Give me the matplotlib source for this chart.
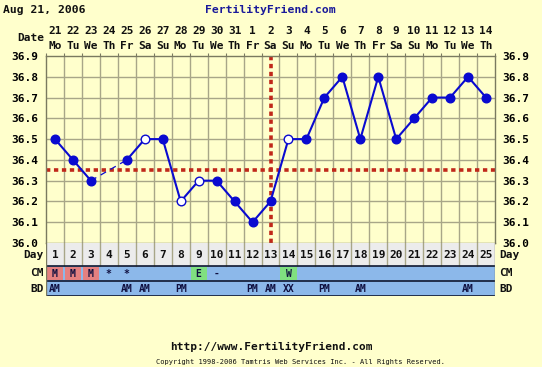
import matplotlib
matplotlib.use("Agg")
import matplotlib.pyplot as plt
import matplotlib.transforms as mtransforms
from matplotlib.patches import Rectangle

# ---------------- data ----------------
cycle_days = list(range(1, 26))
dates = ["21", "22", "23", "24", "25", "26", "27", "28", "29", "30", "31", "1", "2",
         "3", "4", "5", "6", "7", "8", "9", "10", "11", "12", "13", "14"]
weekdays = ["Mo", "Tu", "We", "Th", "Fr", "Sa", "Su", "Mo", "Tu", "We", "Th", "Fr", "Sa",
            "Su", "Mo", "Tu", "We", "Th", "Fr", "Sa", "Su", "Mo", "Tu", "We", "Th"]
temps = [36.5, 36.4, 36.3, None, 36.4, 36.5, 36.5, 36.2, 36.3, 36.3, 36.2, 36.1, 36.2,
         36.5, 36.5, 36.7, 36.8, 36.5, 36.8, 36.5, 36.6, 36.7, 36.7, 36.8, 36.7]
open_marker = [False, False, False, False, False, True, False, True, True, False, False, False, False,
               True, False, False, False, False, False, False, False, False, False, False, False]
cm = ["M", "M", "M", "*", "*", "", "", "", "E", "-", "", "", "",
      "W", "", "", "", "", "", "", "", "", "", "", ""]
bd = ["AM", "", "", "", "AM", "AM", "", "PM", "", "", "", "PM", "AM",
      "XX", "", "PM", "", "AM", "", "", "", "", "", "AM", ""]
coverline = 36.35
ovulation_day = 13
y_ticks = [36.0, 36.1, 36.2, 36.3, 36.4, 36.5, 36.6, 36.7, 36.8, 36.9]

# ---------------- style ----------------
W, H = 542, 367
BG = "#ffffcc"
GRID = "#a8a688"
BLUE = "#0a0ad0"
RED = "#c0281a"
ROWBLUE = "#8cb8ea"
DAYGRAY = "#ececec"
PINK = "#e48080"
GREEN = "#80e080"
MONO = "DejaVu Sans Mono"

fig = plt.figure(figsize=(W / 100, H / 100), dpi=100, facecolor=BG)

def fx(x):
    return x / W

def fy(y):
    return 1 - y / H

L, R = 46, 495
T, B = 56, 243
ROWB = 296

ax = fig.add_axes([fx(L), fy(B), fx(R - L), (B - T) / H])
ax.set_facecolor(BG)
ax.set_xlim(0.5, 25.5)
ax.set_ylim(36.0, 36.9)

# grid
for yv in y_ticks[1:-1]:
    ax.axhline(yv, color=GRID, lw=1.0, zorder=1)
for i in range(1, 25):
    ax.axvline(i + 0.5, color=GRID, lw=1.0, zorder=1)
for s in ax.spines.values():
    s.set_color("#7a7a60")
    s.set_linewidth(1.0)

ax.set_xticks([i + 0.5 for i in range(0, 26)])
ax.set_xticklabels([])
ax.tick_params(axis="x", top=True, bottom=False, direction="out", length=2.5, color="#7a7a60")
ax.set_yticks(y_ticks)
ax.set_yticklabels([f"{v:.1f}" for v in y_ticks])
ax.tick_params(axis="y", left=False, right=False, labelleft=True, labelright=True, pad=2,
               labelsize=8)
for lab in ax.get_yticklabels():
    lab.set_fontfamily(MONO)
    lab.set_fontweight("bold")

# coverline and ovulation line
ax.axhline(coverline, color=RED, lw=2.6, linestyle=(0, (1.2, 1.0)), zorder=2)
ax.axvline(ovulation_day, color=RED, lw=2.6, linestyle=(0, (1.2, 1.0)), zorder=2)

# temperature line: split at missing days
segments = []
cur = []
for d, t in zip(cycle_days, temps):
    if t is None:
        if cur:
            segments.append(cur)
        cur = []
    else:
        cur.append((d, t))
if cur:
    segments.append(cur)
for seg in segments:
    ax.plot([p[0] for p in seg], [p[1] for p in seg], color=BLUE, lw=1.5, zorder=3)
# dashed connection across gaps
for a, b in zip(segments[:-1], segments[1:]):
    (x0, y0), (x1, y1) = a[-1], b[0]
    ax.plot([x0, x1], [y0, y1], color=BLUE, lw=0.9, linestyle=(0, (5, 4)), zorder=3)

for d, t, o in zip(cycle_days, temps, open_marker):
    if t is None:
        continue
    ax.plot([d], [t], marker="o", markersize=6.2,
            markerfacecolor="white" if o else BLUE, markeredgecolor=BLUE,
            markeredgewidth=1.0, zorder=4, linestyle="none")

# ---------------- lower rows ----------------
rax = fig.add_axes([fx(L), fy(ROWB), fx(R - L), (ROWB - B) / H])
rax.set_xlim(0.5, 25.5)
rax.set_ylim(0, 53)
rax.set_axis_off()
rax.add_patch(Rectangle((0.5, 30), 25, 23, facecolor=DAYGRAY, edgecolor="none", zorder=0))
rax.add_patch(Rectangle((0.5, 0), 25, 30, facecolor=ROWBLUE, edgecolor="none", zorder=0))
for i in range(1, 25):
    rax.plot([i + 0.5, i + 0.5], [30, 53], color=GRID, lw=1.0, zorder=1)
for yy in [0.5, 15, 30]:
    rax.plot([0.5, 25.5], [yy, yy], color="#101830", lw=1.2, zorder=2)
rax.plot([0.5, 0.5], [0, 53], color="#7a7a60", lw=1.0, zorder=2)
rax.plot([25.5, 25.5], [0, 53], color="#7a7a60", lw=1.0, zorder=2)

for d, c, b in zip(cycle_days, cm, bd):
    rax.text(d, 41, str(d), ha="center", va="center", fontsize=8, fontfamily=MONO,
             fontweight="bold", color="#101010", zorder=3)
    if c:
        if c in ("M", "E", "W"):
            col = PINK if c == "M" else GREEN
            rax.add_patch(Rectangle((d - 0.45, 16.5), 0.9, 12.5, facecolor=col,
                                    edgecolor="none", zorder=1))
        rax.text(d, 22.3, c, ha="center", va="center", fontsize=7, fontfamily=MONO,
                 fontweight="bold", color="#101040", zorder=3)
    if b:
        rax.text(d, 7.5, b, ha="center", va="center", fontsize=7, fontfamily=MONO,
                 fontweight="bold", color="#101040", zorder=3)

# row labels
for label, yy in [("Day", 254.5), ("CM", 273.5), ("BD", 288.5)]:
    fig.text(fx(44), fy(yy), label, ha="right", va="center", fontsize=8, fontfamily=MONO,
             fontweight="bold", color="#101010")
    fig.text(fx(499), fy(yy), label, ha="left", va="center", fontsize=8, fontfamily=MONO,
             fontweight="bold", color="#101010")

# ---------------- header ----------------
trans = mtransforms.blended_transform_factory(ax.transData, fig.transFigure)
for d, dt, wd in zip(cycle_days, dates, weekdays):
    fig.text(d, fy(31), dt, transform=trans, ha="center", va="center", fontsize=8,
             fontfamily=MONO, fontweight="bold", color="#101010")
    fig.text(d, fy(46), wd, transform=trans, ha="center", va="center", fontsize=8,
             fontfamily=MONO, fontweight="bold", color="#101010")
fig.text(fx(44), fy(38), "Date", ha="right", va="center", fontsize=8, fontfamily=MONO,
         fontweight="bold", color="#101010")

fig.text(fx(3), fy(10), "Aug 21, 2006", ha="left", va="center", fontsize=8.2,
         fontfamily=MONO, fontweight="bold", color="#101010")
fig.text(fx(270), fy(10), "FertilityFriend.com", ha="center", va="center", fontsize=8.2,
         fontfamily=MONO, fontweight="bold", color="#1a1a9a")

# ---------------- footer ----------------
fig.text(fx(271), fy(347), "http://www.FertilityFriend.com", ha="center", va="center",
         fontsize=8, fontfamily=MONO, fontweight="bold", color="#101010")
fig.text(fx(300), fy(362), "Copyright 1998-2006 Tamtris Web Services Inc. - All Rights Reserved.",
         ha="center", va="center", fontsize=5.0, fontfamily=MONO, color="#101010")

fig.savefig("out.png", dpi=100, facecolor=BG)
